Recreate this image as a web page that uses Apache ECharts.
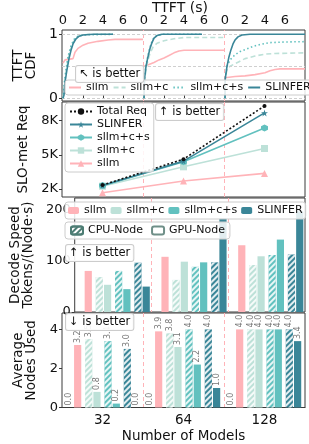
<!DOCTYPE html>
<html><head><meta charset="utf-8">
<script src="https://cdn.jsdelivr.net/npm/echarts@6/dist/echarts.min.js"></script>
<style>html,body{margin:0;padding:0;background:#fff}#c{width:309px;height:444px}</style>
</head><body><div id="c"></div>
<script>
// ---------------- data ----------------
const modelCounts = ['32', '64', '128'];
const systems = ['sllm', 'sllm+c', 'sllm+c+s', 'SLINFER'];
const sysColors = ['#FFB3B8', '#BDE1D8', '#62C1BF', '#3A8698'];
const cdfTicks = [0, 2, 4, 6];

// TTFT CDF, [seconds, fraction]
const cdf32_sllm = [[0,0.55],[0.2,0.6],[1.0,0.62],[1.2,0.72],[1.5,0.78],[2.0,0.83],[2.5,0.86],[3.5,0.89],[4.5,0.91],[5.2,0.92],[8,0.92]];
const cdf32_sllmc = [[0,0],[0.1,0.15],[0.3,0.42],[0.6,0.68],[0.9,0.84],[1.3,0.94],[1.8,0.98],[2.5,1.0],[5,1.0]];
const cdf32_sllmcs = [[0,0],[0.1,0.2],[0.3,0.45],[0.5,0.65],[0.8,0.82],[1.1,0.92],[1.5,0.97],[2,0.99],[5,1.0]];
const cdf32_slinfer = [[0,0],[0.1,0.05],[0.2,0.25],[0.4,0.45],[0.6,0.62],[0.8,0.75],[1.0,0.85],[1.3,0.93],[1.6,0.97],[2.0,0.99],[3,1.0],[5,1.0]];

const cdf64_sllm = [[0,0.5],[0.5,0.53],[1.0,0.56],[1.5,0.6],[2.0,0.63],[2.5,0.67],[3.0,0.71],[3.5,0.74],[4.0,0.75],[8,0.75]];
const cdf64_sllmc = [[0,0],[0.05,0.25],[0.2,0.45],[0.4,0.6],[0.6,0.7],[0.9,0.8],[1.3,0.86],[2,0.9],[3,0.93],[4,0.95],[8,0.95]];
const cdf64_sllmcs = [[0,0],[0.05,0.32],[0.2,0.52],[0.4,0.67],[0.6,0.8],[0.8,0.89],[1.0,0.95],[1.3,0.98],[1.8,1.0],[5.8,1.0]];
const cdf64_slinfer = [[0,0],[0.05,0.3],[0.2,0.5],[0.4,0.65],[0.6,0.78],[0.8,0.87],[1.0,0.94],[1.3,0.98],[1.8,1.0],[5.8,1.0]];

const cdf128_sllm = [[0,0.32],[1,0.34],[2,0.35],[3,0.37],[4,0.4],[4.5,0.43],[5,0.45],[5.5,0.46],[8,0.46]];
const cdf128_sllmc = [[0,0],[0.02,0.3],[0.2,0.45],[0.5,0.5],[1,0.54],[1.5,0.58],[2,0.62],[3,0.66],[4,0.69],[5,0.7],[8,0.71]];
const cdf128_sllmcs = [[0,0],[0.02,0.3],[0.2,0.5],[0.5,0.6],[1.0,0.68],[1.5,0.73],[2,0.76],[2.8,0.81],[3.5,0.84],[4.5,0.87],[6,0.88],[8,0.885]];
const cdf128_slinfer = [[0,0],[0.02,0.3],[0.2,0.5],[0.4,0.65],[0.6,0.76],[0.8,0.85],[1.0,0.91],[1.3,0.96],[1.7,0.99],[2.5,1.0],[8,1.0]];

// SLO-met requests
const totalReq = [2350, 4620, 9290];
const slo_slinfer = [2300, 4450, 8680];
const slo_sllmcs = [2300, 4400, 7360];
const slo_sllmc = [2250, 3950, 5560];
const slo_sllm = [1680, 2700, 3370];
const sloTicks = [2000, 5000, 8000];

// Decode speed tokens/(node*s)
const speed_sllm_cpu = [0, 0, 0];
const speed_sllm_gpu = [80, 107.5, 130];
const speed_sllmc_cpu = [68, 62.5, 91.5];
const speed_sllmc_gpu = [53, 98, 108.5];
const speed_sllmcs_cpu = [80, 88, 111];
const speed_sllmcs_gpu = [44.5, 96.7, 141];
const speed_slinfer_cpu = [96, 96.7, 112];
const speed_slinfer_gpu = [49.5, 182, 196];
const speedTicks = [0, 100, 200];

// Average nodes used
const nodes_sllm_cpu = [0.0, 0.0, 0.0];
const nodes_sllm_gpu = [3.2, 3.9, 4.0];
const nodes_sllmc_cpu = [3.5, 3.8, 4.0];
const nodes_sllmc_gpu = [0.8, 3.1, 4.0];
const nodes_sllmcs_cpu = [3.4, 4.0, 4.0];
const nodes_sllmcs_gpu = [0.2, 2.2, 4.0];
const nodes_slinfer_cpu = [3.0, 4.0, 4.0];
const nodes_slinfer_gpu = [0.0, 1.0, 3.4];
const nodeTicks = [0, 2, 4];

// ---------------- chart ----------------
const FONT = 'DejaVu Sans';
const chart = echarts.init(document.getElementById('c'), null, {renderer: 'canvas'});
const PINK = '#FFB3B8';
const L = 62, W = 243, SUBW = 81;
const P1 = {top: 30, h: 71}, P2 = {top: 102, h: 95}, P3 = {top: 198, h: 114}, P4 = {top: 313, h: 96};
const BORDER = '#3a3a3a';

const grids = [
  {left: L, top: P1.top, width: W, height: P1.h, show: true, borderColor: BORDER, borderWidth: 1},
  {left: L, top: P1.top, width: SUBW, height: P1.h},
  {left: L + SUBW, top: P1.top, width: SUBW, height: P1.h},
  {left: L + 2 * SUBW, top: P1.top, width: SUBW, height: P1.h},
  {left: L, top: P2.top, width: W, height: P2.h, show: true, borderColor: BORDER, borderWidth: 1},
  {left: L, top: P3.top, width: W, height: P3.h, show: true, borderColor: BORDER, borderWidth: 1},
  {left: L, top: P4.top, width: W, height: P4.h, show: true, borderColor: BORDER, borderWidth: 1},
  {left: 0, top: 0, width: 1, height: 1}
];

const tickLabel = {color: '#111', fontSize: 13, fontFamily: FONT};
const nameStyle = {color: '#111', fontSize: 13.5, fontFamily: FONT, lineHeight: 13};
const sepLine = {show: true, showMinLine: false, showMaxLine: false, lineStyle: {color: PINK, type: [4, 3], width: 1}};

const xAxes = [
  {gridIndex: 0, type: 'value', show: false, min: 0, max: 1},
  ...[1, 2, 3].map(i => ({
    gridIndex: i, type: 'value', position: 'top', min: -0.1, max: 8,
    axisLine: {show: false}, splitLine: {show: false},
    axisTick: {show: true, customValues: cdfTicks, length: 3, lineStyle: {color: BORDER}},
    axisLabel: Object.assign({customValues: cdfTicks, margin: 3}, tickLabel)
  })),
  ...[4, 5].map(i => ({
    gridIndex: i, type: 'category', data: modelCounts,
    axisLine: {show: false}, axisTick: {show: false}, axisLabel: {show: false}, splitLine: sepLine
  })),
  {gridIndex: 6, type: 'category', data: modelCounts,
    axisLine: {show: true, lineStyle: {color: BORDER}}, axisTick: {show: false},
    axisLabel: Object.assign({margin: 6}, tickLabel, {fontSize: 13.5}), splitLine: sepLine,
    name: 'Number of Models', nameLocation: 'middle', nameGap: 22, nameTextStyle: nameStyle},
  {gridIndex: 7, type: 'category', data: ['a'], show: false}
];

const yAxes = [
  {gridIndex: 0, type: 'value', min: -0.042, max: 1.067,
    axisLine: {show: false}, splitLine: {show: false},
    axisTick: {show: true, customValues: [0, 1], length: 3, lineStyle: {color: BORDER}},
    axisLabel: Object.assign({customValues: [0, 1], margin: 4}, tickLabel, {fontSize: 14}),
    name: 'TTFT\nCDF', nameLocation: 'middle', nameGap: 17, nameTextStyle: nameStyle},
  ...[1, 2, 3].map(i => ({gridIndex: i, type: 'value', min: -0.042, max: 1.067, show: false})),
  {gridIndex: 4, type: 'value', min: 1300, max: 9640,
    axisLine: {show: false}, splitLine: {show: false},
    axisTick: {show: true, customValues: sloTicks, length: 3, lineStyle: {color: BORDER}},
    axisLabel: Object.assign({customValues: sloTicks, margin: 4, formatter: v => (v / 1000) + 'K'}, tickLabel),
    name: 'SLO-met Req', nameLocation: 'middle', nameGap: 25, nameTextStyle: nameStyle},
  {gridIndex: 5, type: 'value', min: 0, max: 222,
    axisLine: {show: false}, splitLine: {show: false},
    axisTick: {show: true, customValues: speedTicks, length: 3, lineStyle: {color: BORDER}},
    axisLabel: Object.assign({customValues: speedTicks, margin: 4}, tickLabel),
    name: 'Decode Speed\nTokens/(Node·s)', nameLocation: 'middle', nameGap: 32, nameTextStyle: nameStyle},
  {gridIndex: 6, type: 'value', min: 0, max: 4.84,
    axisLine: {show: false}, splitLine: {show: false},
    axisTick: {show: true, customValues: nodeTicks, length: 3, lineStyle: {color: BORDER}},
    axisLabel: Object.assign({customValues: nodeTicks, margin: 4}, tickLabel),
    name: 'Average\nNodes Used', nameLocation: 'middle', nameGap: 19, nameTextStyle: nameStyle},
  {gridIndex: 7, type: 'value', show: false}
];

const series = [];
// Panel 1: TTFT CDFs
const cdfSets = [
  [cdf32_sllm, cdf32_sllmc, cdf32_sllmcs, cdf32_slinfer],
  [cdf64_sllm, cdf64_sllmc, cdf64_sllmcs, cdf64_slinfer],
  [cdf128_sllm, cdf128_sllmc, cdf128_sllmcs, cdf128_slinfer]
];
const cdfLineTypes = ['solid', [5, 3], [1.5, 2.5], 'solid'];
cdfSets.forEach((set, k) => {
  const ax = k + 1;
  set.forEach((d, s) => {
    const ser = {
      type: 'line', name: 'T:' + systems[s], xAxisIndex: ax, yAxisIndex: ax, data: d,
      symbol: 'none', showSymbol: false, silent: true, animation: false, z: 3 + s,
      itemStyle: {color: sysColors[s]},
      lineStyle: {color: sysColors[s], width: 1.6, type: cdfLineTypes[s]}
    };
    if (s === 0) {
      const ml = [{yAxis: 0}, {yAxis: 0.5}, {yAxis: 1}];
      const mlData = ml.map(m => Object.assign({lineStyle: {color: '#cfcfcf', type: [3, 2], width: 1}}, m));
      if (k < 2) mlData.push({xAxis: 8, lineStyle: {color: PINK, type: [4, 3], width: 1}});
      ser.markLine = {silent: true, symbol: 'none', label: {show: false}, animation: false, data: mlData};
    }
    series.push(ser);
  });
});

// Panel 2: SLO-met requests
const STAR = 'path://M50,0 L61,35 L98,35 L68,57 L79,91 L50,70 L21,91 L32,57 L2,35 L39,35 Z';
const HEX = 'path://M50,0 L93,25 L93,75 L50,100 L7,75 L7,25 Z';
const sloSeries = [
  {name: 'Total Req', data: totalReq, color: '#111', type: [2, 2], symbol: 'circle', size: 4},
  {name: 'SLINFER', data: slo_slinfer, color: sysColors[3], type: 'solid', symbol: STAR, size: 7},
  {name: 'sllm+c+s', data: slo_sllmcs, color: sysColors[2], type: 'solid', symbol: HEX, size: 7},
  {name: 'sllm+c', data: slo_sllmc, color: sysColors[1], type: 'solid', symbol: 'rect', size: 7},
  {name: 'sllm', data: slo_sllm, color: sysColors[0], type: 'solid', symbol: 'triangle', size: 7}
];
sloSeries.slice().reverse().forEach((s, i) => {
  series.push({
    type: 'line', name: 'S:' + s.name, xAxisIndex: 4, yAxisIndex: 4, data: s.data,
    symbol: s.symbol, symbolSize: s.size, showSymbol: true, animation: false, z: 3 + i,
    itemStyle: {color: s.color}, lineStyle: {color: s.color, width: 1.6, type: s.type}
  });
});

// Panels 3 & 4: bars (CPU hatched, GPU solid; thin invisible spacers group the pairs)
const HATCH = {symbol: 'rect', symbolSize: 1, dashArrayX: [1, 0], dashArrayY: [1.6, 2], rotation: -Math.PI / 4, color: 'rgba(255,255,255,0.85)'};
const BW = 7.2, SPW = 2.4;
const spacerData = [0, 0, 0];
function addBars(prefix, ax, arrs, withLabels) {
  arrs.forEach((d, idx) => {
    const sys = Math.floor(idx / 2), isCPU = idx % 2 === 0;
    if (idx > 0 && isCPU) {
      series.push({type: 'bar', name: prefix + 'sp' + idx, xAxisIndex: ax, yAxisIndex: ax, data: spacerData,
        barWidth: SPW, barGap: '15%', silent: true, itemStyle: {color: 'rgba(0,0,0,0)'}});
    }
    const ser = {
      type: 'bar', name: prefix + systems[sys] + (isCPU ? ' CPU' : ''), xAxisIndex: ax, yAxisIndex: ax,
      data: d, barWidth: BW, barGap: '15%', animation: false, silent: true,
      itemStyle: {color: sysColors[sys]}
    };
    if (isCPU) ser.itemStyle.decal = HATCH;
    if (withLabels) {
      ser.label = {show: true, position: 'top', rotate: 90, align: 'left', verticalAlign: 'middle', distance: 2,
        color: '#777', fontSize: 8, fontFamily: FONT, formatter: p => p.value.toFixed(1)};
    }
    series.push(ser);
  });
}
addBars('D:', 5, [speed_sllm_cpu, speed_sllm_gpu, speed_sllmc_cpu, speed_sllmc_gpu, speed_sllmcs_cpu, speed_sllmcs_gpu, speed_slinfer_cpu, speed_slinfer_gpu], false);
addBars('N:', 6, [nodes_sllm_cpu, nodes_sllm_gpu, nodes_sllmc_cpu, nodes_sllmc_gpu, nodes_sllmcs_cpu, nodes_sllmcs_gpu, nodes_slinfer_cpu, nodes_slinfer_gpu], true);

// legend-only entries
series.push({type: 'bar', name: 'CPU-Node', xAxisIndex: 7, yAxisIndex: 7, data: [],
  itemStyle: {color: '#fff', borderColor: '#4d7d74', borderWidth: 1,
    decal: {symbol: 'rect', symbolSize: 1, dashArrayX: [1, 0], dashArrayY: [1.4, 2], rotation: -Math.PI / 4, color: '#4d7d74'}}});
series.push({type: 'bar', name: 'GPU-Node', xAxisIndex: 7, yAxisIndex: 7, data: [],
  itemStyle: {color: '#fff', borderColor: '#6f8f88', borderWidth: 1}});

const legendBase = {
  backgroundColor: 'rgba(255,255,255,0.85)', borderColor: '#cccccc', borderWidth: 1, borderRadius: 3,
  textStyle: {color: '#111', fontSize: 11, fontFamily: FONT}, selectedMode: false, z: 20, width: 244
};
const legends = [
  Object.assign({}, legendBase, {left: 65, top: 80, orient: 'horizontal', itemWidth: 12, itemHeight: 8, itemGap: 4, padding: [2, 3],
    itemStyle: {opacity: 0}, data: systems.map(s => 'T:' + s), formatter: n => n.slice(2)}),
  Object.assign({}, legendBase, {left: 65, top: 103, orient: 'vertical', itemWidth: 22, itemHeight: 8, itemGap: 2, padding: [3, 4],
    data: sloSeries.map(s => 'S:' + s.name), formatter: n => n.slice(2)}),
  Object.assign({}, legendBase, {left: 65, top: 202, orient: 'horizontal', itemWidth: 11, itemHeight: 7, itemGap: 4, padding: [3, 3],
    data: systems.map(s => 'D:' + s), formatter: n => n.slice(2)}),
  Object.assign({}, legendBase, {left: 65, top: 222, orient: 'horizontal', itemWidth: 12, itemHeight: 8, itemGap: 8, padding: [3, 5],
    data: ['CPU-Node', 'GPU-Node']})
];

function note(text, left, top) {
  return {type: 'text', left, top, z: 50, style: {text, font: '11.5px "DejaVu Sans"', fill: '#111',
    backgroundColor: 'rgba(255,255,255,0.9)', borderColor: '#cccccc', borderWidth: 1, borderRadius: 2, padding: [2, 3]}};
}

chart.setOption({
  animation: false,
  textStyle: {fontFamily: FONT},
  grid: grids, xAxis: xAxes, yAxis: yAxes, series, legend: legends,
  graphic: [
    {type: 'text', left: 152, top: 1, style: {text: 'TTFT (s)', font: '14px "DejaVu Sans"', fill: '#111'}},
    note('↖ is better', 75, 65),
    note('↑ is better', 155, 103),
    note('↑ is better', 65, 244),
    note('↓ is better', 65, 313)
  ]
});
</script></body></html>
